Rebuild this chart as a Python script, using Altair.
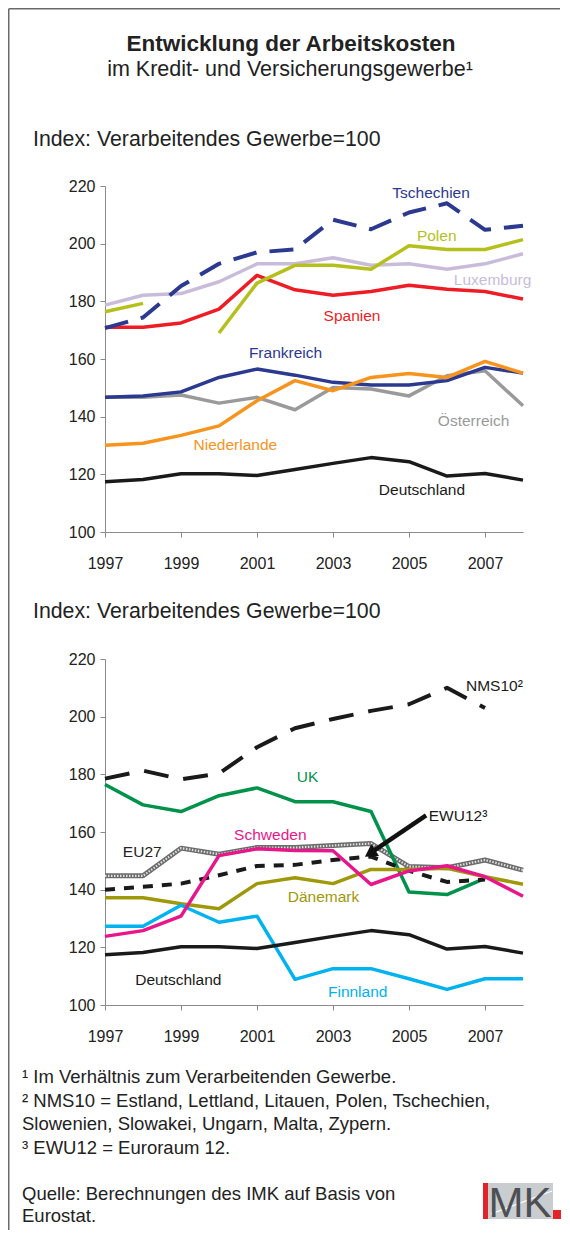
import altair as alt
import pandas as pd

years = list(range(1997, 2009))
x_ticks = [1997, 1999, 2001, 2003, 2005, 2007]
y_ticks = [100, 120, 140, 160, 180, 200, 220]

# ---- upper panel series (index, manufacturing = 100)
tschechien = [170.7, 174.4, 185.3, 193.0, 197.0, 198.0, 208.3, 205.0, 210.8, 214.0, 204.8, 206.2]
polen = [176.4, 179.3, None, 169.0, 186.3, 192.5, 192.5, 191.1, 199.3, 198.0, 198.0, 201.4]
luxemburg = [178.7, 182.1, 182.7, 186.8, 193.0, 193.0, 195.1, 192.5, 193.0, 191.1, 193.0, 196.5]
spanien = [171.0, 171.0, 172.5, 177.3, 189.0, 184.0, 182.1, 183.4, 185.6, 184.2, 183.4, 180.8]
frankreich = [146.7, 147.2, 148.6, 153.6, 156.5, 154.4, 151.9, 151.0, 151.0, 152.5, 157.1, 155.1]
oesterreich = [146.7, 146.7, 147.5, 144.7, 146.7, 142.4, 150.1, 149.6, 147.2, 154.2, 155.9, 143.8]
niederlande = [130.1, 130.8, 133.5, 136.8, 145.5, 152.5, 149.0, 153.6, 155.0, 153.6, 159.2, 155.1]
deutschland = [117.4, 118.2, 120.2, 120.2, 119.6, 121.7, 123.8, 125.8, 124.4, 119.4, 120.3, 118.0]

# ---- lower panel series
nms10 = [178.5, 181.3, 178.3, 180.3, 189.4, 196.0, 199.2, 202.0, 204.3, 210.0, 203.0, None]
uk = [176.5, 169.4, 167.1, 172.6, 175.3, 170.5, 170.5, 167.1, 139.2, 138.3, 143.9, None]
eu27 = [144.8, 144.8, 154.4, 152.3, 154.6, 154.6, 155.3, 156.0, 148.0, 147.6, 150.3, 146.8]
ewu12 = [140.0, 141.0, 142.1, 145.0, 148.2, 148.6, 150.3, 151.5, 146.5, 142.7, 143.5, None]
daenemark = [137.2, 137.2, 135.1, 133.4, 142.1, 144.1, 142.1, 147.0, 147.0, 147.4, 144.5, 141.9]
schweden = [123.8, 125.8, 130.8, 151.8, 154.2, 153.6, 153.5, 141.8, 146.5, 148.3, 144.5, 137.7]
finnland = [127.3, 127.3, 134.6, 128.7, 130.8, 108.9, 112.6, 112.6, 109.1, 105.4, 109.1, 109.1]

# ---- series labels (text, year, value)
top_labels = ["Tschechien", "Polen", "Luxemburg", "Spanien", "Frankreich",
              "Österreich", "Niederlande", "Deutschland"]
top_label_year = [2005.58, 2005.73, 2007.2, 2003.5, 2001.75, 2006.7, 2000.43, 2005.34]
top_label_value = [217.6, 202.7, 187.4, 174.9, 162.1, 138.5, 130.2, 114.6]

bot_labels_c = ["UK", "Schweden", "EU27", "Dänemark", "Deutschland", "Finnland"]
bot_label_c_year = [2002.33, 2001.35, 1997.98, 2002.75, 1998.93, 2003.65]
bot_label_c_value = [179.1, 159.0, 153.1, 137.4, 108.7, 104.5]
bot_labels_l = ["NMS10²", "EWU12³"]
bot_label_l_year = [2006.5, 2005.52]
bot_label_l_value = [210.6, 165.5]

arrow_year = [2005.45, 2004.02]
arrow_value = [165.8, 153.0]

title = "Entwicklung der Arbeitskosten"
subtitle = "im Kredit- und Versicherungsgewerbe¹"
index_label = "Index: Verarbeitendes Gewerbe=100"
footnotes = ["¹ Im Verhältnis zum Verarbeitenden Gewerbe.",
             "² NMS10 = Estland, Lettland, Litauen, Polen, Tschechien,",
             "Slowenien, Slowakei, Ungarn, Malta, Zypern.",
             "³ EWU12 = Euroraum 12."]
source = ["Quelle: Berechnungen des IMK auf Basis von", "Eurostat."]

# ---- styling
FONT = "Liberation Sans"
W, H = 418, 346
NAVY = "#2B3990"
C = {
    "Tschechien": NAVY, "Polen": "#B5C01C", "Luxemburg": "#C9BCDB", "Spanien": "#EE1C25",
    "Frankreich": NAVY, "Österreich": "#9A9A9A", "Niederlande": "#F7941D",
    "Deutschland": "#1A1A1A", "UK": "#00924A", "Schweden": "#E8168B", "EU27": "#222222",
    "Dänemark": "#9E980A", "Finnland": "#00B2EE", "NMS10²": "#1A1A1A", "EWU12³": "#1A1A1A",
}

X = alt.X("year:Q", scale=alt.Scale(domain=[1997, 2008], nice=False, zero=False),
          axis=alt.Axis(values=x_ticks, format="d", title=None, labelPadding=18,
                        tickSize=5, labelFlush=False, labelOverlap=False))
Y = alt.Y("value:Q", scale=alt.Scale(domain=[100, 220], nice=False, zero=False),
          axis=alt.Axis(values=y_ticks, title=None, labelPadding=5, tickSize=5,
                        labelOverlap=False))

one = alt.Data(values=[{"a": 1}])


def line_layer(vals, color, width=3.5, dash=None):
    rows, seg = [], 0
    for yr, v in zip(years, vals):
        if v is None:
            seg += 1
            continue
        rows.append({"year": yr, "value": v, "seg": seg})
    props = dict(color=color, strokeWidth=width, strokeJoin="round", strokeCap="butt")
    if dash is not None:
        props["strokeDash"] = dash
    return alt.Chart(pd.DataFrame(rows)).mark_line(**props).encode(x=X, y=Y, detail="seg:N")


def label_layer(labels, xs, ys, align="center"):
    df = pd.DataFrame({"label": labels, "year": xs, "value": ys,
                       "color": [C[l] for l in labels]})
    return alt.Chart(df).mark_text(font=FONT, fontSize=15.5, align=align, baseline="middle").encode(
        x=X, y=Y, text="label:N", color=alt.Color("color:N", scale=None))


def txt(s, x, y, size=18.5, weight="normal", align="left", color="#222222", font=FONT):
    return alt.Chart(one).mark_text(text=s, fontSize=size, fontWeight=weight, align=align,
                                    baseline="alphabetic", color=color, font=font).encode(
        x=alt.value(x), y=alt.value(y))


def prule(x, y, x2=None, y2=None, color="#6a6a6a", width=1.5):
    enc = dict(x=alt.value(x), y=alt.value(y))
    if x2 is not None:
        enc["x2"] = alt.value(x2)
    if y2 is not None:
        enc["y2"] = alt.value(y2)
    return alt.Chart(one).mark_rule(color=color, strokeWidth=width).encode(**enc)


def prect(x, x2, y, y2, color):
    return alt.Chart(one).mark_rect(color=color).encode(
        x=alt.value(x), x2=alt.value(x2), y=alt.value(y), y2=alt.value(y2))


# ---------------- upper panel
top_layers = [
    prule(-96.25, -177.25, y2=1044),
    prule(-96.25, -177.25, x2=455),
    txt(title, 186, -135, size=22.5, weight="bold", align="center"),
    txt(subtitle, 185, -110, size=21.5, align="center"),
    txt(index_label, -72, -40, size=21.3),
    line_layer(luxemburg, C["Luxemburg"]),
    line_layer(oesterreich, C["Österreich"]),
    line_layer(frankreich, C["Frankreich"]),
    line_layer(niederlande, C["Niederlande"]),
    line_layer(spanien, C["Spanien"]),
    line_layer(polen, C["Polen"]),
    line_layer(tschechien, NAVY, width=4, dash=[24, 13]),
    line_layer(deutschland, C["Deutschland"]),
    label_layer(top_labels, top_label_year, top_label_value),
]
top = alt.layer(*top_layers).properties(width=W, height=H)

# ---------------- lower panel
arrow_df = pd.DataFrame({"year": [arrow_year[0]], "value": [arrow_value[0]],
                         "year2": [arrow_year[1]], "value2": [arrow_value[1]]})
arrow_line = alt.Chart(arrow_df).mark_rule(color="#111111", strokeWidth=4.5).encode(
    x=X, y=Y, x2="year2:Q", y2="value2:Q")
arrow_head = alt.Chart(pd.DataFrame({"year": [arrow_year[1]], "value": [arrow_value[1]]})).mark_point(
    shape="triangle", filled=True, color="#111111", size=200, angle=237, opacity=1).encode(x=X, y=Y)

bot_layers = [
    txt(index_label, -72, -41, size=21.3),
    line_layer(eu27, "#6b6b6b", width=5),
    line_layer(eu27, "#e0e0e0", width=2.2, dash=[1.5, 1.5]),
    line_layer(nms10, "#1A1A1A", width=4, dash=[25, 15]),
    line_layer(uk, C["UK"]),
    line_layer(ewu12, "#1A1A1A", width=4, dash=[10, 9]),
    line_layer(daenemark, C["Dänemark"]),
    line_layer(finnland, C["Finnland"]),
    line_layer(schweden, C["Schweden"]),
    line_layer(deutschland, C["Deutschland"]),
    arrow_line,
    arrow_head,
    label_layer(bot_labels_c, bot_label_c_year, bot_label_c_value),
    label_layer(bot_labels_l, bot_label_l_year, bot_label_l_value, align="left"),
    txt(footnotes[0], -83, 424),
    txt(footnotes[1], -83, 447.5),
    txt(footnotes[2], -83, 471),
    txt(footnotes[3], -83, 494.5),
    txt(source[0], -83, 541),
    txt(source[1], -83, 563),
    # IMK logo
    prect(378, 448, 524, 560, "#C9CDD0"),
    prule(386, 555, x2=447, y2=532, color="#ffffff", width=1.2),
    prect(378, 383, 524, 560, "#E3232B"),
    txt("MK", 415, 558, size=42, align="center", color="#4D4F53",
        font="'Liberation Sans Narrow', 'Liberation Sans', sans-serif"),
    prect(448, 456, 551, 560, "#E3232B"),
]
bottom = alt.layer(*bot_layers).properties(width=W, height=H)

chart = alt.vconcat(top, bottom, spacing=127, bounds="flush").properties(
    padding=0, background="white"
).configure_view(stroke=None).configure_axis(
    domainColor="#8a8a8a", tickColor="#8a8a8a", domainWidth=1, tickWidth=1,
    labelFont=FONT, labelFontSize=16, labelColor="#222222", grid=False,
)

chart.save("out.html", embed_options={"renderer": "svg", "actions": False})
